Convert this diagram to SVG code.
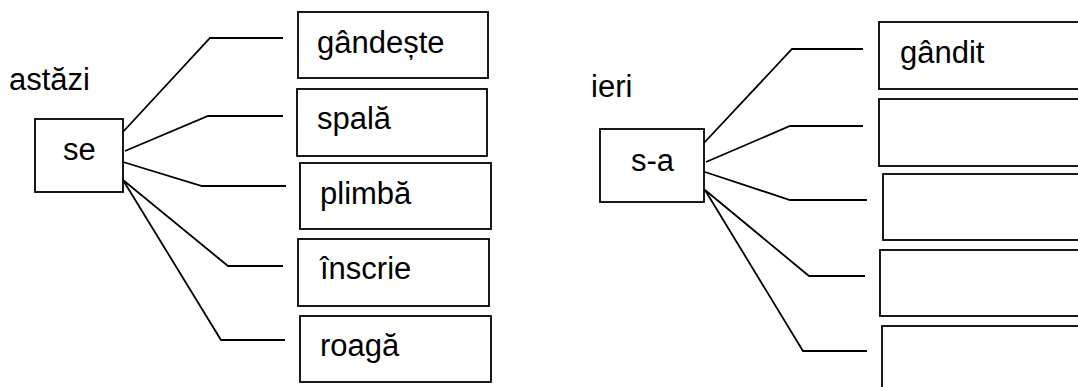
<svg xmlns="http://www.w3.org/2000/svg" width="1078" height="387" viewBox="0 0 1078 387">
<style>
.box{fill:#fff;stroke:#000;stroke-width:1.8}
.lbl{font-family:"Liberation Sans",Arial,sans-serif;font-size:31px;fill:#000}
.con{fill:none;stroke:#000;stroke-width:1.8}
</style>
<rect width="1078" height="387" fill="#fff"/>
<text class="lbl" x="9" y="90">astăzi</text>
<text class="lbl" x="591" y="97">ieri</text>
<g id="connectors">
<polyline class="con" points="122,133 210,38 283,38"/>
<polyline class="con" points="125,151 208,116 283,116"/>
<polyline class="con" points="123,162 202,186 286,186"/>
<polyline class="con" points="123,180 228,266 283,266"/>
<polyline class="con" points="123,180 221,340 285,340"/>
<polyline class="con" points="703,144 792,49 863,49"/>
<polyline class="con" points="706,162 790,126 863,126"/>
<polyline class="con" points="705,172 790,200 867,200"/>
<polyline class="con" points="705,190 809,276 865,276"/>
<polyline class="con" points="705,190 803,351 867,351"/>
</g>
<g id="se"><rect class="box" x="35" y="119" width="88" height="73"/><text class="lbl" x="63" y="160">se</text></g>
<g id="gandeste"><rect class="box" x="298" y="12" width="190" height="66"/><text class="lbl" x="317" y="53">gândește</text></g>
<g id="spala"><rect class="box" x="297" y="89" width="190" height="67"/><text class="lbl" x="317" y="129">spală</text></g>
<g id="plimba"><rect class="box" x="300" y="163" width="191" height="66"/><text class="lbl" x="320" y="204">plimbă</text></g>
<g id="inscrie"><rect class="box" x="298" y="239" width="191" height="67"/><text class="lbl" x="320" y="279">înscrie</text></g>
<g id="roaga"><rect class="box" x="300" y="316" width="191" height="66"/><text class="lbl" x="320" y="356">roagă</text></g>
<g id="sa"><rect class="box" x="600" y="129" width="104" height="73"/><text class="lbl" x="631" y="171">s-a</text></g>
<g id="gandit"><rect class="box" x="879" y="22" width="210" height="67"/><text class="lbl" x="900" y="63">gândit</text></g>
<g id="r2"><rect class="box" x="879" y="99" width="210" height="67"/></g>
<g id="r3"><rect class="box" x="883" y="174" width="210" height="66"/></g>
<g id="r4"><rect class="box" x="880" y="250" width="210" height="66"/></g>
<g id="r5"><rect class="box" x="882" y="326" width="210" height="70"/></g>
</svg>
